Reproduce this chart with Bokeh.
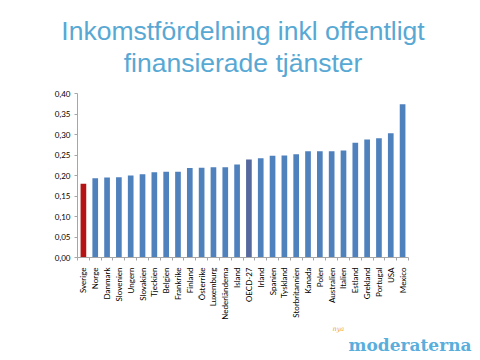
from bokeh.plotting import figure
from bokeh.models import ColumnDataSource, FixedTicker, Title
from bokeh.embed import file_html
from bokeh.resources import INLINE
import math

countries = ["Sverige", "Norge", "Danmark", "Slovenien", "Ungern", "Slovakien", "Tjeckien",
             "Belgien", "Frankrike", "Finland", "Österrike", "Luxemburg", "Nederländerna",
             "Island", "OECD-27", "Irland", "Spanien", "Tyskland", "Storbritannien", "Kanada",
             "Polen", "Australien", "Italien", "Estland", "Grekland", "Portugal", "USA", "Mexico"]
values = [0.180, 0.193, 0.195, 0.196, 0.200, 0.203, 0.208, 0.209, 0.209, 0.218, 0.219,
          0.220, 0.220, 0.227, 0.239, 0.242, 0.248, 0.249, 0.252, 0.259, 0.259, 0.259,
          0.261, 0.280, 0.288, 0.291, 0.303, 0.374]
y_ticks = [0.0, 0.05, 0.10, 0.15, 0.20, 0.25, 0.30, 0.35, 0.40]
y_tick_labels = ["0,00", "0,05", "0,10", "0,15", "0,20", "0,25", "0,30", "0,35", "0,40"]
title_lines = ["Inkomstfördelning inkl offentligt", "finansierade tjänster"]

BLUE = "#4F81BD"
colors = []
for c in countries:
    if c == "Sverige":
        colors.append("#B41414")
    elif c == "OECD-27":
        colors.append("#56689E")
    else:
        colors.append(BLUE)

n = len(countries)
xs = list(range(n))
src = ColumnDataSource(dict(x=xs, top=values, color=colors, name=countries))

p = figure(width=480, height=360, output_backend="svg", toolbar_location=None,
           x_range=(-0.5, n - 0.5), y_range=(0, 0.40),
           min_border_left=77, min_border_right=72, min_border_top=93, min_border_bottom=103)
p.vbar(x="x", top="top", width=0.48, fill_color="color", line_color=None, source=src)

p.outline_line_color = None
p.background_fill_color = "white"
p.border_fill_color = "white"
p.xgrid.grid_line_color = None
p.ygrid.grid_line_color = None

yax = p.yaxis[0]
yax.ticker = FixedTicker(ticks=y_ticks)
yax.major_label_overrides = {t: l for t, l in zip(y_ticks, y_tick_labels)}
yax.axis_line_color = "#A6A6A6"
yax.major_tick_line_color = "#A6A6A6"
yax.major_tick_out = 3
yax.major_tick_in = 0
yax.minor_tick_line_color = None
yax.major_label_text_font = "Lato"
yax.major_label_text_font_size = "8px"
yax.major_label_text_color = "#000000"
yax.major_label_standoff = 4

xax = p.xaxis[0]
xax.ticker = FixedTicker(ticks=xs, minor_ticks=[i - 0.5 for i in range(n + 1)])
xax.major_label_overrides = {i: c for i, c in zip(xs, countries)}
xax.major_label_orientation = math.pi / 2
xax.axis_line_color = "#A6A6A6"
xax.major_tick_line_color = None
xax.minor_tick_line_color = "#A6A6A6"
xax.minor_tick_out = 3
xax.minor_tick_in = 0
xax.major_label_text_font = "Lato"
xax.major_label_text_font_size = "8px"
xax.major_label_text_color = "#000000"
xax.major_label_standoff = 4

# spacer between plot and title, then the two title lines (second line closest)
p.add_layout(Title(text=" ", text_font_size="1px", standoff=13), "above")
for txt in reversed(title_lines):
    p.add_layout(Title(text=txt, align="center", standoff=0,
                       text_font="Liberation Sans", text_font_size="26.5px",
                       text_font_style="normal", text_color="#58A8D4"), "above")

p.add_layout(Title(text="nya", align="left", offset=255, standoff=0,
                   text_font="DejaVu Serif", text_font_size="6.5px", text_font_style="italic",
                   text_color="#F0A030"), "below")
p.add_layout(Title(text="moderaterna", align="left", offset=271, standoff=0,
                   text_font="DejaVu Serif", text_font_size="17px", text_font_style="bold",
                   text_color="#5AAEDC"), "below")

open("out.html", "w").write(file_html(p, INLINE))
